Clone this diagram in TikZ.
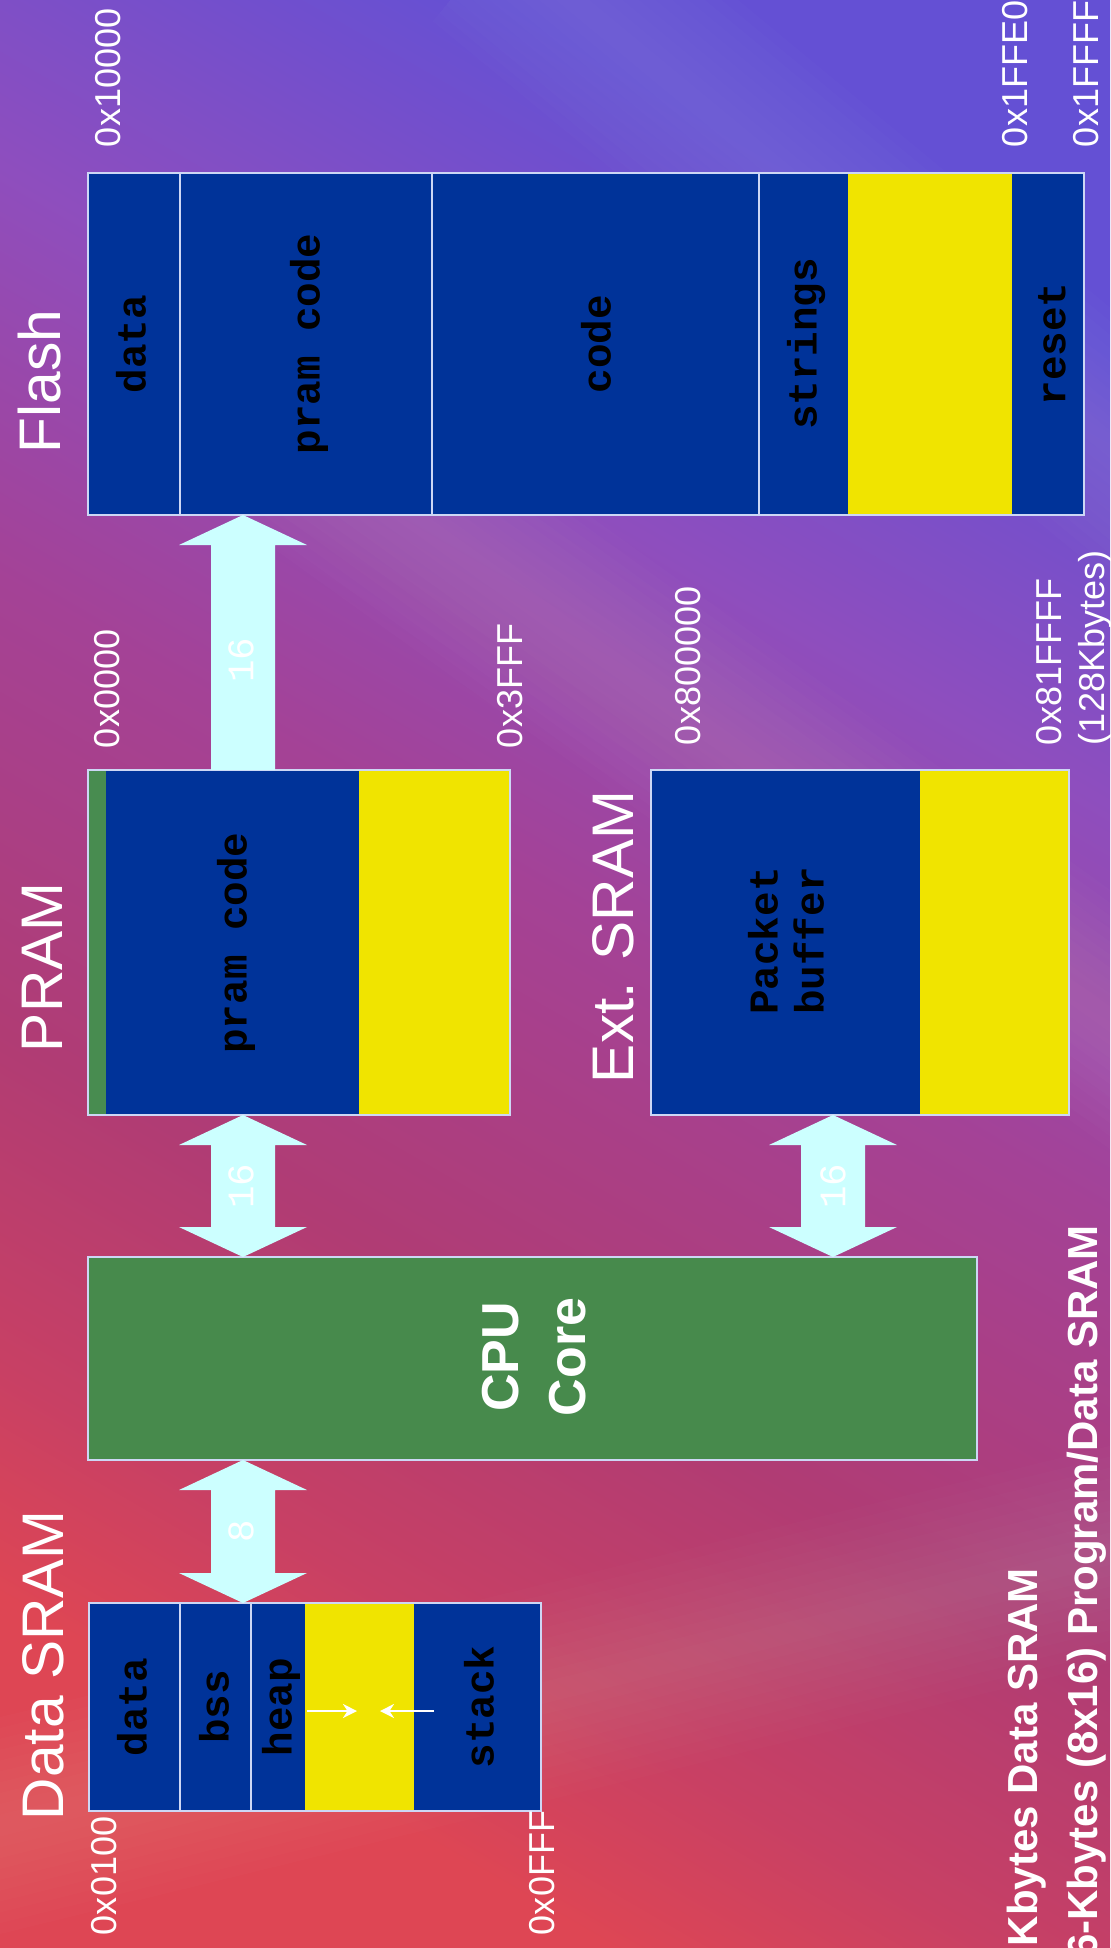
\documentclass[tikz,border=0pt]{standalone}
\usepackage{fontspec}
\setmainfont{Liberation Sans}
\newfontfamily\codefont{Liberation Mono}
\usetikzlibrary{calc,fit,arrows.meta}

\definecolor{memblue}{RGB}{0,51,153}
\definecolor{memyellow}{RGB}{240,228,0}
\definecolor{cpugreen}{RGB}{71,138,76}
\definecolor{pramgreen}{RGB}{72,140,80}
\definecolor{buscyan}{RGB}{204,255,255}
\definecolor{edgeline}{RGB}{205,215,245}
\definecolor{bgA}{RGB}{222,70,84}
\definecolor{bgB}{RGB}{200,64,100}
\definecolor{bgC}{RGB}{176,60,116}
\definecolor{bgD}{RGB}{164,66,150}
\definecolor{bgE}{RGB}{142,78,190}
\definecolor{bgF}{RGB}{100,80,212}

\pgfdeclareverticalshading{aurora}{100bp}{color(0bp)=(bgA); color(25bp)=(bgA); color(31bp)=(bgB); color(40bp)=(bgC); color(52bp)=(bgD); color(63bp)=(bgE); color(75bp)=(bgF); color(100bp)=(bgF)}

% fat bus arrow with heads at both ends: #1 = upper tip, #2 = lower tip
\newcommand{\dualbus}[2]{%
  \fill[bus] (#1) -- ++(64,30) -- ++(-32,0) -- ($(#2)+(32,-30)$) -- ++(32,0) -- (#2)
    -- ++(-64,-30) -- ++(32,0) -- ($(#1)+(-32,30)$) -- ++(-32,0) -- cycle;}

% soft light band across the backdrop: #1, #2 = ends, #3 = colour
\newcommand{\softband}[3]{%
  \foreach \w in {12,24,...,120} {
    \draw[#3, line width=\w pt, opacity=0.012, line cap=butt] (#1) -- (#2);
  }}

\tikzset{
  every node/.style={inner sep=0pt, outer sep=0pt},
  title/.style={rotate=90, anchor=base west, text=white, font=\fontsize{33.4}{40}\selectfont},
  addr/.style={rotate=90, anchor=base west, text=white, font=\fontsize{20.5}{24.5}\selectfont},
  seglabel/.style={rotate=90, text=black, align=center, font=\codefont\bfseries\fontsize{23.3}{26.2}\selectfont},
  buslabel/.style={rotate=90, text=white, font=\codefont\fontsize{21.3}{24}\selectfont},
  note/.style={rotate=90, anchor=base east, text=white, font=\bfseries\fontsize{23.9}{28}\selectfont},
  bus/.style={fill=buscyan},
  block/.style={draw=edgeline, line width=1pt},
  divider/.style={draw=edgeline, line width=0.9pt},
  growth/.style={draw=white, line width=1.1pt, -{Stealth[length=8pt, width=8pt]}},
}

\begin{document}
\begin{tikzpicture}[x=0.02cm, y=-0.02cm]
\useasboundingbox (0,0) rectangle (1110,1948);
\clip (0,0) rectangle (1110,1948);

% backdrop
\shade[shading=aurora, shading angle=-30] (0,0) rectangle (1110,1948);
\softband{150,330}{1250,1120}{white}
\softband{-100,1850}{1250,1520}{white}
\softband{500,-60}{1250,560}{white}

% Flash
\fill[memblue] (88,173) rectangle (848,515);
\fill[memyellow] (848,173) rectangle (1012,515);
\fill[memblue] (1012,173) rectangle (1084,515);
\draw[divider] (180,173) -- (180,515) (432,173) -- (432,515) (759,173) -- (759,515);
\node[block, fit={(88,173) (1084,515)}] (flash) {};

% PRAM
\fill[pramgreen] (88,770) rectangle (106,1115);
\fill[memblue] (106,770) rectangle (359,1115);
\fill[memyellow] (359,770) rectangle (510,1115);
\node[block, fit={(88,770) (510,1115)}] (pram) {};

% external SRAM
\fill[memblue] (651,770) rectangle (920,1115);
\fill[memyellow] (920,770) rectangle (1069,1115);
\node[block, fit={(651,770) (1069,1115)}] (extsram) {};

% CPU core
\node[block, fill=cpugreen, fit={(88,1257) (977,1460)}] (cpu) {};

% data SRAM
\fill[memblue] (89,1603) rectangle (305,1811);
\fill[memyellow] (305,1603) rectangle (414,1811);
\fill[memblue] (414,1603) rectangle (541,1811);
\draw[divider] (180,1603) -- (180,1811) (251,1603) -- (251,1811);
\node[block, fit={(89,1603) (541,1811)}] (dsram) {};

% buses
\coordinate (fl-in) at (243,0 |- flash.south);
\coordinate (pr-out) at (243,0 |- pram.north);
\fill[bus] (fl-in) -- ++(64,30) -- ++(-32,0) -- ($(pr-out)+(32,0)$) -- ++(-64,0)
  -- ($(fl-in)+(-32,30)$) -- ++(-32,0) -- cycle;
\coordinate (pr-in) at (243,0 |- pram.south);
\coordinate (cpu-a) at (243,0 |- cpu.north);
\dualbus{pr-in}{cpu-a}
\coordinate (ext-in) at (833,0 |- extsram.south);
\coordinate (cpu-b) at (833,0 |- cpu.north);
\dualbus{ext-in}{cpu-b}
\coordinate (cpu-c) at (243,0 |- cpu.south);
\coordinate (ds-in) at (243,0 |- dsram.north);
\dualbus{cpu-c}{ds-in}

\node[buslabel] (bw1) at (241,660) {16};
\node[buslabel] (bw2) at ($(pr-in)!0.5!(cpu-a)+(-2,0)$) {16};
\node[buslabel] (bw3) at ($(ext-in)!0.5!(cpu-b)$) {16};
\node[buslabel] (bw4) at ($(cpu-c)!0.5!(ds-in)+(-2,0)$) {8};

% heap and stack growth
\coordinate (hp-a) at (307,1711);
\coordinate (hp-b) at (357,1711);
\coordinate (st-a) at (434,1711);
\coordinate (st-b) at (380,1711);
\draw[growth] (hp-a) -- (hp-b);
\draw[growth] (st-a) -- (st-b);

% segment names
\node[seglabel] (f-data) at (131,344) {data};
\node[seglabel] (f-pram) at (309,344) {pram code};
\node[seglabel] (f-code) at (596,344) {code};
\node[seglabel] (f-str) at (806,344) {strings};
\node[seglabel] (f-reset) at (1052,344) {reset};
\node[seglabel] (p-code) at (236,943) {pram code};
\node[seglabel] (e-buf) at (786,941) {Packet\\buffer};
\node[seglabel] (d-data) at (132,1707) {data};
\node[seglabel] (d-bss) at (214,1707) {bss};
\node[seglabel] (d-heap) at (281,1707) {heap};
\node[seglabel] (d-stack) at (479,1707) {stack};
\node[rotate=90, text=white, align=center, font=\bfseries\fontsize{29.6}{38}\selectfont] (cpu-lbl) at (534,1357) {CPU\\Core};

% memory titles
\node[title] (t-flash) at (60,453) {Flash};
\node[title] (t-pram) at (62,1052) {PRAM};
\node[title] (t-ext) at (633,1083) {Ext. SRAM};
\node[title] (t-dsram) at (63,1820) {Data SRAM};

% address bounds
\node[addr] (a-fl0) at (120,147) {0x10000};
\node[addr] (a-fl1) at (1027,147) {0x1FFE0};
\node[addr] (a-fl2) at (1098,147) {0x1FFFF};
\node[addr] (a-pr0) at (119,748) {0x0000};
\node[addr] (a-pr1) at (522,748) {0x3FFF};
\node[addr] (a-ex0) at (700,745) {0x800000};
\node[addr] (a-ex1) at (1061,745) {0x81FFFF};
\node[addr] (a-ex2) at (1104,745) {(128Kbytes)};
\node[addr] (a-ds0) at (116,1935) {0x0100};
\node[addr] (a-ds1) at (554,1935) {0x0FFF};

% size notes
\node[note] (n1) at (1037,1568) {Kbytes Data SRAM};
\node[note] (n2) at (1097,1225) {6-Kbytes (8x16) Program/Data SRAM};
\end{tikzpicture}
\end{document}
